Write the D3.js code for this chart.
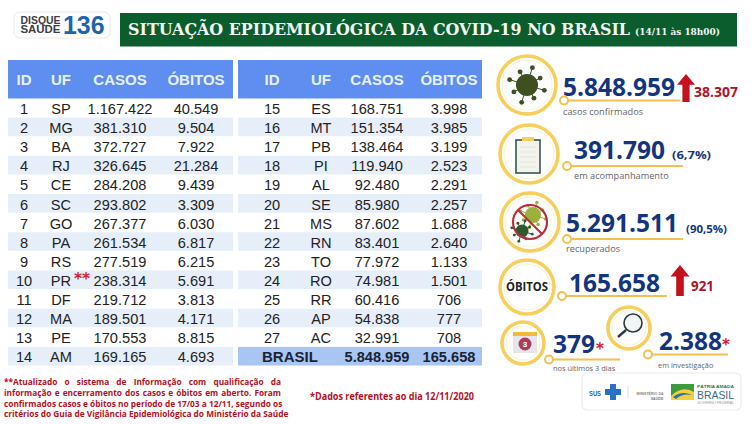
<!DOCTYPE html>
<html>
<head>
<meta charset="utf-8">
<script src="https://cdn.jsdelivr.net/npm/d3@7"></script>
<style>
	html, body { margin: 0; padding: 0; background: #fff; }
	svg { display: block; }
	text { font-family: "Liberation Sans", sans-serif; }
</style>
</head>
<body>
<svg id="chart" width="754" height="424"></svg>
<script>

var ids_left  = [1, 2, 3, 4, 5, 6, 7, 8, 9, 10, 11, 12, 13, 14];
var ufs_left  = ["SP", "MG", "BA", "RJ", "CE", "SC", "GO", "PA", "RS", "PR", "DF", "MA", "PE", "AM"];
var casos_left  = [1167422, 381310, 372727, 326645, 284208, 293802, 267377, 261534, 277519, 238314, 219712, 189501, 170553, 169165];
var obitos_left = [40549, 9504, 7922, 21284, 9439, 3309, 6030, 6817, 6215, 5691, 3813, 4171, 8815, 4693];

var ids_right = [15, 16, 17, 18, 19, 20, 21, 22, 23, 24, 25, 26, 27];
var ufs_right = ["ES", "MT", "PB", "PI", "AL", "SE", "MS", "RN", "TO", "RO", "RR", "AP", "AC"];
var casos_right  = [168751, 151354, 138464, 119940, 92480, 85980, 87602, 83401, 77972, 74981, 60416, 54838, 32991];
var obitos_right = [3998, 3985, 3199, 2523, 2291, 2257, 1688, 2640, 1133, 1501, 706, 777, 708];

var headers = ["ID", "UF", "CASOS", "ÓBITOS"];
var total_label = "BRASIL";
var total_casos = 5848959;
var total_obitos = 165658;

var confirmados = 5848959, novos_casos = 38307;
var acompanhamento = 391790, acompanhamento_pct = "(6,7%)";
var recuperados = 5291511, recuperados_pct = "(90,5%)";
var obitos_total = 165658, novos_obitos = 921;
var ultimos_dias = 379, investigacao = 2388;

var note_lines = [
	"**Atualizado o sistema de Informação com qualificação da",
	"informação e encerramento dos casos e óbitos em aberto. Foram",
	"confirmados casos e óbitos no período de 17/03 a 12/11, segundo os",
	"critérios do Guia de Vigilância Epidemiológica do Ministério da Saúde"
];

var BLUE = "#12357e", RED = "#b3121f", YELLOW = "#f8cf5c", GREY = "#666", OPEN = "'Open Sans', sans-serif", DEJA = "'DejaVu Sans', sans-serif";

var svg = d3.select("#chart");
var num = d3.formatLocale({decimal: ",", thousands: ".", grouping: [3], currency: ["", ""]}).format(",");

var label = function(x, y, str, size, color, opts) {
	opts = opts || {};
	var t = svg.append("text")
		.attr("x", x).attr("y", y)
		.attr("font-size", size)
		.attr("fill", color)
		.attr("text-anchor", opts.anchor || "start")
		.attr("font-weight", opts.weight || "normal")
		.style("font-family", opts.family || null)
		.text(str);
	if (opts.width) {
		t.attr("textLength", opts.width).attr("lengthAdjust", "spacingAndGlyphs");
	}
	return t;
}

// one state table: bands come from the row scale, text from the column scale
var table = function(x0, x1, cols, ids, ufs, casos, obitos) {
	var y = d3.scaleBand().domain(d3.range(14)).range([98, 365.5]);
	var col = d3.scaleOrdinal().domain(headers).range(cols);

	svg.append("rect").attr("x", x0).attr("y", 60).attr("width", x1 - x0).attr("height", 38.5).attr("fill", "#5e8ff0");
	headers.forEach(function(h) {
		label(col(h), 85, h, 15, "#e8effc", {anchor: "middle", weight: "bold"});
	});

	var rows = svg.append("g").selectAll("g")
		.data(ids)
		.enter().append("g");

	rows.filter(function(d, i) { return i % 2 == 1; }).append("rect")
		.attr("x", x0).attr("width", x1 - x0)
		.attr("y", function(d) { return y(ids.indexOf(d)) + 0.5; })
		.attr("height", y.bandwidth() - 0.5)
		.attr("fill", "#e6eefa");

	var cell = function(name, fn) {
		rows.append("text")
			.attr("x", col(name))
			.attr("y", function(d, i) { return y(i) + 16; })
			.attr("text-anchor", "middle")
			.attr("font-size", 14.6)
			.attr("fill", "#222")
			.text(fn);
	}
	cell("ID", function(d) { return d; });
	cell("UF", function(d, i) { return ufs[i]; });
	cell("CASOS", function(d, i) { return num(casos[i]); });
	cell("ÓBITOS", function(d, i) { return num(obitos[i]); });

	if (ids.length < 14) {
		var yt = y(13);
		svg.append("rect").attr("x", x0).attr("y", yt + 0.5).attr("width", x1 - x0).attr("height", y.bandwidth() - 0.5).attr("fill", "#a9c6f3");
		label(x0 + 24, yt + 16, total_label, 15, "#1a2233", {weight: "bold"});
		label(col("CASOS"), yt + 16, num(total_casos), 14.6, "#1a2233", {anchor: "middle", weight: "bold"});
		label(col("ÓBITOS"), yt + 16, num(total_obitos), 14.6, "#1a2233", {anchor: "middle", weight: "bold"});
	}
	return y;
}

var ring = function(cx, cy, r) {
	svg.append("circle").attr("cx", cx).attr("cy", cy).attr("r", r).attr("fill", "#fff").attr("stroke", YELLOW).attr("stroke-width", 3.6);
	svg.append("circle").attr("cx", cx).attr("cy", cy).attr("r", r - 4).attr("fill", "none").attr("stroke", "#fbeec8").attr("stroke-width", 0.8);
}

var underline = function(x0, x1, y) {
	svg.append("line").attr("x1", x0).attr("x2", x1).attr("y1", y).attr("y2", y).attr("stroke", "#f3c14f").attr("stroke-width", 2);
	svg.append("circle").attr("cx", x0).attr("cy", y).attr("r", 4).attr("fill", "#fff").attr("stroke", "#f3c14f").attr("stroke-width", 2);
}

var big = function(x, y, value) {
	label(x, y, num(value), 24.5, BLUE, {weight: "bold", family: OPEN});
}

var small = function(x, y, str, size) {
	label(x, y, str, size || 9.2, GREY, {family: OPEN});
}

var arrow = function(cx, top, bottom, w) {
	var head = w * 0.6;
	svg.append("path")
		.attr("d", d3.line()([[cx, top], [cx + w / 2, top + head], [cx + w / 5, top + head], [cx + w / 5, bottom], [cx - w / 5, bottom], [cx - w / 5, top + head], [cx - w / 2, top + head]]) + "Z")
		.attr("fill", "#c4111d");
}

var virus = function(cx, cy, r, color, n) {
	var g = svg.append("g").attr("fill", color).attr("stroke", color);
	d3.range(n).forEach(function(i) {
		var a = i / n * 2 * Math.PI + 0.3;
		var len = r + (i % 2 ? r * 0.35 : r * 0.65);
		g.append("line").attr("x1", cx).attr("y1", cy).attr("x2", cx + Math.cos(a) * len).attr("y2", cy + Math.sin(a) * len).attr("stroke-width", 1);
		g.append("circle").attr("cx", cx + Math.cos(a) * len).attr("cy", cy + Math.sin(a) * len).attr("r", r * 0.22).attr("stroke", "none");
	});
	g.append("circle").attr("cx", cx).attr("cy", cy).attr("r", r).attr("stroke", "none");
}

// header strip
var header = function() {
	svg.append("rect").attr("x", 14).attr("y", 12).attr("width", 96).attr("height", 26).attr("rx", 6).attr("fill", "#fff").attr("stroke", "#eee7e2");
	label(20.5, 23.5, "DISQUE", 10, "#3d3d3f", {weight: "bold", width: 40});
	label(20.5, 33, "SAÚDE", 10, "#3d3d3f", {weight: "bold", width: 40});
	label(63, 34, "136", 25, "#1f63ad", {weight: "bold", width: 41.5});

	svg.append("rect").attr("x", 120).attr("y", 13).attr("width", 617).attr("height", 33.5).attr("fill", "#0b5d2e");
	label(128, 34.5, "SITUAÇÃO EPIDEMIOLÓGICA DA COVID-19 NO BRASIL", 16, "#f2f7f2", {weight: "bold", family: "'DejaVu Serif', serif", width: 502});
	label(635, 34.5, "(14/11 às 18h00)", 8.5, "#f2f7f2", {weight: "bold", family: "'DejaVu Serif', serif", width: 85});
}

var kpis = function() {
	// casos confirmados
	ring(527, 85, 29);
	virus(527, 85, 11, "#3f4f22", 8);
	big(563, 96, confirmados);
	underline(564, 680, 100.5);
	small(563, 115, "casos confirmados");
	arrow(686, 74, 102, 18);
	label(694, 97, num(novos_casos), 14.5, RED, {weight: "bold", family: OPEN, width: 44});

	// em acompanhamento
	ring(529, 154, 29);
	svg.append("rect").attr("x", 516).attr("y", 140).attr("width", 24).attr("height", 33).attr("fill", "#f4f4ee").attr("stroke", "#2f5a50").attr("stroke-width", 1.6);
	svg.append("rect").attr("x", 522).attr("y", 137).attr("width", 12).attr("height", 4).attr("fill", YELLOW);
	d3.range(5).forEach(function(i) {
		svg.append("line").attr("x1", 520).attr("x2", 536).attr("y1", 147 + i * 5).attr("y2", 147 + i * 5).attr("stroke", "#e2e2da");
	});
	big(574, 159, acompanhamento);
	label(672, 159, acompanhamento_pct, 11, BLUE, {weight: "bold", family: OPEN, width: 39});
	underline(567, 683, 166);
	small(574, 179, "em acompanhamento");

	// recuperados
	ring(530, 222, 29);
	virus(533, 215, 8, "#9bb13a", 8);
	virus(522, 231, 6.5, "#2d5a2a", 8);
	svg.append("circle").attr("cx", 530).attr("cy", 222).attr("r", 17).attr("fill", "none").attr("stroke", "#b8303a").attr("stroke-width", 2.2);
	svg.append("line").attr("x1", 518).attr("y1", 210).attr("x2", 542).attr("y2", 234).attr("stroke", "#b8303a").attr("stroke-width", 2.2);
	big(566, 232, recuperados);
	label(686, 233, recuperados_pct, 11, BLUE, {weight: "bold", family: OPEN, width: 41});
	underline(567, 683, 239);
	small(566, 252, "recuperados");

	// óbitos
	ring(527, 287, 27);
	label(527, 291, "ÓBITOS", 11.5, "#222", {anchor: "middle", weight: "bold", family: OPEN, width: 42});
	big(569, 292, obitos_total);
	underline(562, 667, 296);
	arrow(680, 265, 296, 19);
	label(691, 291, num(novos_obitos), 14.5, RED, {weight: "bold", family: OPEN, width: 23});

	// nos últimos 3 dias
	ring(523, 343, 21);
	svg.append("rect").attr("x", 513).attr("y", 333).attr("width", 24).attr("height", 20).attr("fill", "#e6e6ea");
	svg.append("rect").attr("x", 513).attr("y", 332).attr("width", 24).attr("height", 4).attr("fill", "#f5b93f");
	svg.append("circle").attr("cx", 525).attr("cy", 344).attr("r", 6.5).attr("fill", "#a83e5e");
	label(525, 347, "3", 8, "#fff", {anchor: "middle", weight: "bold"});
	big(553, 353, ultimos_dias);
	label(596, 354, "*", 15, "#d8202c", {weight: "bold", family: DEJA});
	underline(549, 620, 359.5);
	small(553, 371, "nos últimos 3 dias", 7.4);

	// em investigação
	ring(629, 328, 21);
	svg.append("circle").attr("cx", 633).attr("cy", 323).attr("r", 9).attr("fill", "#f2f5f5").attr("stroke", "#2a3a3e").attr("stroke-width", 1.6);
	svg.append("line").attr("x1", 626).attr("y1", 330).attr("x2", 618).attr("y2", 337).attr("stroke", "#2a3a3e").attr("stroke-width", 2.4);
	big(659, 350, investigacao);
	label(722, 350, "*", 15, "#d8202c", {weight: "bold", family: DEJA});
	underline(648, 728, 354.5);
	small(658, 368, "em investigação", 7.4);
}

var footer = function() {
	svg.append("rect").attr("x", 582).attr("y", 373).attr("width", 159).attr("height", 37).attr("rx", 5).attr("fill", "#fff").attr("stroke", "#ebebeb").attr("stroke-width", 1.2);
	label(589, 396, "SUS", 7, "#2a62b0", {weight: "bold", width: 12});
	svg.append("rect").attr("x", 610).attr("y", 384).attr("width", 6).attr("height", 16).attr("fill", "#2a72c0");
	svg.append("rect").attr("x", 605).attr("y", 389).attr("width", 16).attr("height", 6).attr("fill", "#2a72c0");
	svg.append("line").attr("x1", 628).attr("x2", 628).attr("y1", 386).attr("y2", 398).attr("stroke", "#ddd");
	label(650, 395, "MINISTÉRIO DA", 3.6, "#888", {anchor: "middle", weight: "bold"});
	label(657, 400, "SAÚDE", 3.6, "#777", {anchor: "middle", weight: "bold"});
	svg.append("rect").attr("x", 671).attr("y", 384).attr("width", 23).attr("height", 16).attr("fill", "#3e9a3e");
	svg.append("path").attr("d", "M671 396 Q682 385 694 392 L694 400 L671 400Z").attr("fill", "#f2d23c");
	svg.append("path").attr("d", "M673 397 Q682 390 692 395 Q682 393 676 399Z").attr("fill", "#2a6fb0");
	label(697, 387.5, "PÁTRIA AMADA", 4.4, "#2d7a4a", {weight: "bold", width: 37});
	label(697, 398.5, "BRASIL", 11.5, "#3d6a8a", {width: 37});
	label(697, 404, "GOVERNO FEDERAL", 2.8, "#999", {width: 37});
}

// justified red note, spacing only stretched between words
var notes = function() {
	var ys = [385, 395.5, 406.5, 417];
	note_lines.forEach(function(line, i) {
		var t = label(4, ys[i], line, 8.3, RED, {weight: "bold", family: OPEN});
		var extra = (i == 3 ? 274 : 277) - t.node().getComputedTextLength();
		t.style("word-spacing", Math.max(0, extra / (line.split(" ").length - 1)) + "px");
	});
	label(310, 400, "*Dados referentes ao dia 12/11/2020", 10.4, RED, {weight: "bold", family: OPEN, width: 164});
}

header();
var yleft = table(8, 233, [24, 61, 120, 196], ids_left, ufs_left, casos_left, obitos_left);
table(238, 482, [272, 321, 377, 449], ids_right, ufs_right, casos_right, obitos_right);
label(74, yleft(9) + 14, "**", 15.5, "#d8202c", {weight: "bold", family: DEJA});
kpis();
footer();
notes();

</script>
</body>
</html>
